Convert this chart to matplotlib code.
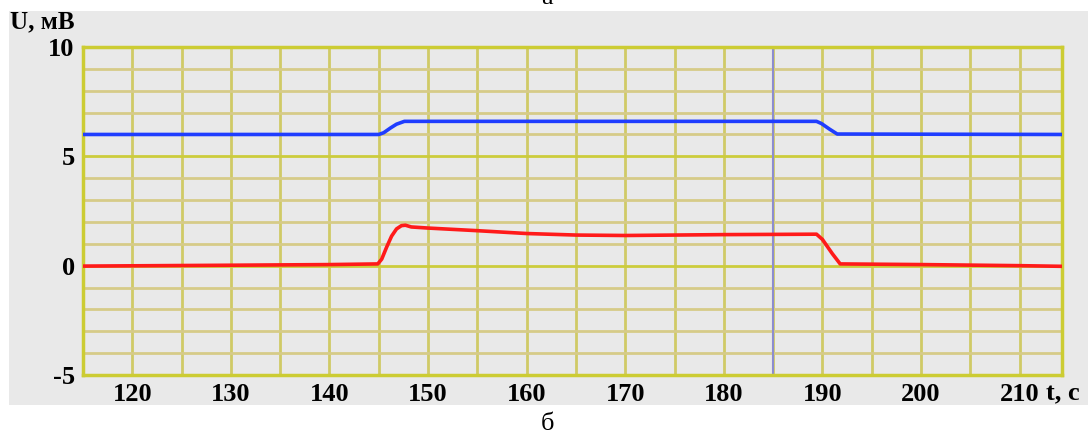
import numpy as np
import matplotlib
matplotlib.use('Agg')
from matplotlib import pyplot as plt
from matplotlib.patches import Rectangle

# blue trace (upper)
t_blue = [115, 145.0, 145.5, 146.2, 146.8, 147.6, 189.4, 189.9, 190.7, 191.5, 214.3]
u_blue = [6.0, 6.0, 6.08, 6.3, 6.47, 6.6, 6.6, 6.5, 6.25, 6.02, 6.0]

# red trace (lower)
t_red = [115, 130, 140, 144.9, 145.3, 145.8, 146.3, 146.8, 147.3, 147.7, 148.3, 150, 155,
         160, 165, 170, 175, 180, 185, 189.4, 190.0, 191.0, 191.8, 200, 210, 214.3]
u_red = [-0.02, 0.02, 0.05, 0.08, 0.3, 0.85, 1.35, 1.68, 1.83, 1.85, 1.77, 1.72, 1.6,
         1.47, 1.40, 1.38, 1.40, 1.42, 1.43, 1.44, 1.2, 0.55, 0.08, 0.05, 0.0, -0.03]

marker_t = 185
xticks = [120, 130, 140, 150, 160, 170, 180, 190, 200, 210]
yticks = [-5, 0, 5, 10]

W, H = 1088, 434
fig = plt.figure(figsize=(W / 100, H / 100), dpi=100)
fig.patch.set_facecolor('white')
fig.patches.append(Rectangle((9 / W, 1 - 405 / H), (1088 - 9) / W, (405 - 11) / H,
                             transform=fig.transFigure, facecolor='#e9e9e9',
                             edgecolor='none', zorder=-5))

ax = fig.add_axes([83 / W, 1 - 375 / H, (1062 - 83) / W, (375 - 47) / H])
ax.set_facecolor('#e9e9e9')
ax.set_xlim(115, 214.3)
ax.set_ylim(-5, 10)

# grid
for x in np.arange(120, 214.3, 5):
    ax.axvline(x, color='#d0ca66', lw=2, zorder=1)
for y in range(-4, 10):
    c = '#cccc3c' if y % 5 == 0 else '#d6cb88'
    ax.axhline(y, color=c, lw=2, zorder=1)

ax.axvline(marker_t, color='#8c8cd0', lw=1.5, zorder=2)
ax.plot(t_blue, u_blue, color='#1f3dff', lw=2.6, zorder=3)
ax.plot(t_red, u_red, color='#ff1a1a', lw=2.6, zorder=3)

for s in ax.spines.values():
    s.set_color('#cccc33')
    s.set_linewidth(2.5)

font = dict(family='Liberation Serif', weight='bold', size=19)
ax.set_xticks(xticks)
ax.set_yticks(yticks)
ax.set_xticklabels([str(v) for v in xticks], fontdict=font)
ax.set_yticklabels([str(v) for v in yticks], fontdict=font)
ax.tick_params(length=0, pad=6)
ax.tick_params(axis='y', pad=6)

fig.text(10 / W, 1 - 28 / H, 'U, мВ', family='Liberation Serif', weight='bold', size=18)
fig.text(1046 / W, 1 - 400 / H, 't, c', family='Liberation Serif', weight='bold', size=19)
fig.text(547 / W, 1 - 430 / H, 'б', family='Liberation Serif', size=19, ha='center',
         va='baseline')
fig.text(547 / W, 1 - 4 / H, 'а', family='Liberation Serif', size=19, ha='center')

plt.savefig('out.png', dpi=100)
